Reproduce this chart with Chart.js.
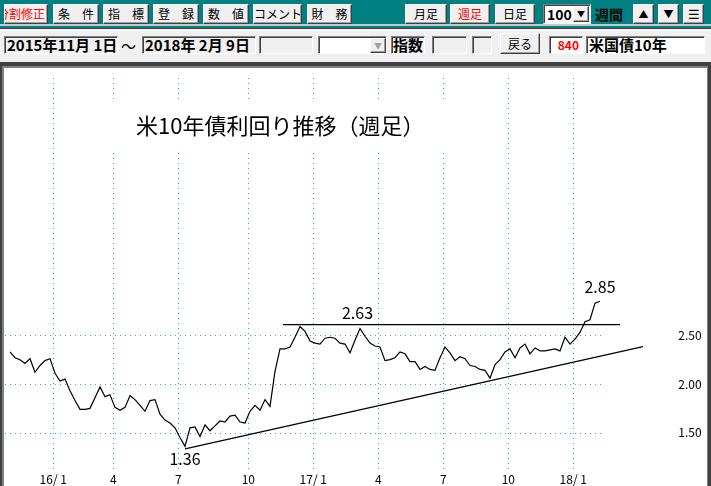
<!DOCTYPE html>
<html><head><meta charset="utf-8">
<script src="https://cdn.jsdelivr.net/npm/chart.js@4/dist/chart.umd.min.js"></script>
<style>
body{margin:0;width:711px;height:486px;overflow:hidden;background:#f0f0f0;position:relative;font-family:"Noto Sans CJK JP",sans-serif}
#bar1{position:absolute;left:0;top:0;width:711px;height:28px;background:#008080;border-bottom:1px solid #404040}
#bar1line{position:absolute;left:0;top:24px;width:711px;height:2px;background:#c8c8c8}
.btn{position:absolute;box-sizing:border-box;background:#f0f0f0;border:1px solid;border-color:#fff #404040 #404040 #fff;box-shadow:inset -1px -1px #a0a0a0;font-size:12px;line-height:18px;text-align:center;white-space:nowrap;overflow:hidden;color:#000}
.r1{top:4px;height:20px}
.red{color:#f00}
.sunk{position:absolute;box-sizing:border-box;border:1px solid;border-color:#808080 #fff #fff #808080;box-shadow:inset 1px 1px #404040;white-space:nowrap;overflow:hidden;font-weight:bold;font-size:15px;line-height:15px}
.r2{top:36px;height:18px}
.white{background:#fff}
.lbl{position:absolute;font-weight:bold;white-space:nowrap}
#frame{position:absolute;left:0;top:62px;width:711px;height:430px;box-sizing:border-box;border-top:4px solid #404040;border-left:2px solid #404040;border-right:3px solid #404040;background:#fff;box-shadow:inset 2px 2px #808080, inset -1px 0 #808080}
#c{position:absolute;left:4px;top:68px}
</style>
</head><body>
<div id="bar1"></div><div id="bar1line"></div>
<div class="btn r1 red" style="left:4px;width:44px"><span style="position:absolute;right:2px;top:0">分割修正</span></div>
<div class="btn r1" style="left:53px;width:46px">条　件</div>
<div class="btn r1" style="left:103px;width:46px">指　標</div>
<div class="btn r1" style="left:153px;width:46px">登　録</div>
<div class="btn r1" style="left:203px;width:46px">数　値</div>
<div class="btn r1" style="left:253px;width:49px">コメント</div>
<div class="btn r1" style="left:307px;width:45px">財　務</div>
<div class="btn r1" style="left:405px;width:42px">月足</div>
<div class="btn r1 red" style="left:450px;width:40px">週足</div>
<div class="btn r1" style="left:495px;width:40px">日足</div>
<div class="sunk white" style="left:543px;top:4px;width:48px;height:20px;font-size:14px;line-height:18px;padding-left:3px">100</div>
<div class="btn" style="left:573px;top:6px;width:16px;height:16px;font-size:8px;line-height:14px">▼</div>
<div class="lbl" style="left:595px;top:4px;font-size:14px;line-height:20px;color:#000">週間</div>
<div class="btn r1" style="left:633px;width:21px;font-size:10px">▲</div>
<div class="btn r1" style="left:658px;width:21px;font-size:10px">▼</div>
<div class="btn r1" style="left:683px;width:21px;font-size:13px">☰</div>

<div class="sunk r2" style="left:4px;width:114px;padding-left:2px">2015年11月 1日</div>
<div class="lbl" style="left:121px;top:35px;font-size:15px;font-weight:normal">～</div>
<div class="sunk r2" style="left:142px;width:114px;padding-left:2px">2018年 2月 9日</div>
<div class="sunk r2" style="left:259px;width:54px"></div>
<div class="sunk r2 white" style="left:318px;width:69px"></div>
<div class="btn" style="left:370px;top:38px;width:16px;height:15px;font-size:8px;line-height:13px;color:#a0a0a0">▼</div>
<div class="sunk r2" style="left:391px;width:34px;padding-left:1px">指数</div>
<div class="sunk r2" style="left:432px;width:35px"></div>
<div class="sunk r2" style="left:472px;width:20px"></div>
<div class="btn" style="left:500px;top:33px;width:40px;height:21px;line-height:19px;font-size:12px">戻る</div>
<div class="sunk r2 white" style="left:549px;width:34px;color:#f00;font-size:12px;text-align:right;padding-right:3px;line-height:16px">840</div>
<div class="sunk r2 white" style="left:586px;width:119px;padding-left:2px">米国債10年</div>

<div id="frame"></div>
<canvas id="c" width="701" height="418"></canvas>
<script>
// ---- data (weekly close, 2015-11-06 .. 2018-02-09) ----
const YIELDS = [
 2.33,2.27,2.25,2.21,2.26,2.12,2.19,2.24,2.26,2.11,
 2.03,2.05,1.93,1.83,1.74,1.74,1.75,1.86,1.97,1.87,
 1.89,1.76,1.73,1.76,1.88,1.84,1.78,1.72,1.83,1.84,
 1.69,1.63,1.60,1.55,1.45,1.36,1.55,1.56,1.46,1.58,
 1.52,1.57,1.62,1.61,1.67,1.68,1.61,1.60,1.72,1.78,
 1.73,1.84,1.77,2.13,2.36,2.36,2.38,2.48,2.59,2.54,
 2.44,2.42,2.41,2.47,2.48,2.47,2.42,2.41,2.32,2.45,
 2.57,2.49,2.42,2.39,2.38,2.24,2.25,2.27,2.33,2.31,
 2.23,2.23,2.15,2.18,2.15,2.14,2.27,2.38,2.32,2.24,
 2.28,2.26,2.19,2.18,2.15,2.14,2.06,2.20,2.25,2.33,
 2.36,2.27,2.37,2.41,2.31,2.37,2.34,2.34,2.35,2.36,
 2.34,2.48,2.41,2.46,2.53,2.64,2.66,2.83,2.85
];
const MONTH_TICK_WEEKS = [9,21,34,48,61,74,87,100,113];
const MONTH_TICK_LABELS = ['16/ 1','4','7','10','17/ 1','4','7','10','18/ 1'];
const Y_TICKS = [1.5,2.0,2.5];
const Y_TICK_LABELS = ['1.50','2.00','2.50'];
const TITLE = '米10年債利回り推移（週足）';
const RESIST_LINE = [{x:54.6,y:2.61},{x:122,y:2.61}];
const TREND_LINE = [{x:35,y:1.333},{x:126.6,y:2.383}];
const NOTES = [{text:'2.63',x:69.5,y:2.73},{text:'2.85',x:118,y:3.0},{text:'1.36',x:35,y:1.235}];

const GRID = '#00c0c0';
const FONT = '"Noto Sans CJK JP", sans-serif';

const deco = {
  id:'deco',
  beforeDatasetsDraw(chart){
    const {ctx, chartArea:a, scales:{x,y}} = chart;
    ctx.save();
    ctx.fillStyle = GRID;
    MONTH_TICK_WEEKS.forEach(w=>{
      const px = Math.round(x.getPixelForValue(w-0.34));
      for(let py=a.top+10; py<=a.bottom-18; py+=5) ctx.fillRect(px,py,1,1);
    });
    const xEnd = x.getPixelForValue(YIELDS.length-1+0.8);
    Y_TICKS.forEach(v=>{
      const py = Math.round(y.getPixelForValue(v));
      for(let px=a.left+1; px<=xEnd; px+=5) ctx.fillRect(px,py,1,1);
    });
    ctx.fillStyle = '#fff';
    ctx.fillRect(56,35,420,50);
    ctx.fillStyle = '#000';
    ctx.font = '22px '+FONT;
    ctx.textBaseline = 'middle';
    ctx.textAlign = 'left';
    ctx.fillText(TITLE, 132, 58);
    ctx.font = '12px '+FONT;
    ctx.textAlign = 'center';
    Y_TICKS.forEach((v,i)=>ctx.fillText(Y_TICK_LABELS[i], 686, y.getPixelForValue(v)));
    MONTH_TICK_WEEKS.forEach((w,i)=>ctx.fillText(MONTH_TICK_LABELS[i], x.getPixelForValue(w-0.34), a.bottom-7));
    ctx.restore();
  },
  afterDatasetsDraw(chart){
    const {ctx, scales:{x,y}} = chart;
    ctx.save();
    ctx.fillStyle='#000';
    ctx.font = '16px '+FONT;
    ctx.textAlign='center';
    ctx.textBaseline='middle';
    NOTES.forEach(n=>ctx.fillText(n.text, x.getPixelForValue(n.x), y.getPixelForValue(n.y)));
    ctx.restore();
  }
};

new Chart(document.getElementById('c'), {
  type:'line',
  data:{datasets:[
    {data:YIELDS.map((v,i)=>({x:i,y:v})), borderColor:'#000', borderWidth:1.2, pointRadius:0, tension:0},
    {data:RESIST_LINE, borderColor:'#000', borderWidth:1.3, pointRadius:0},
    {data:TREND_LINE, borderColor:'#000', borderWidth:1.3, pointRadius:0}
  ]},
  options:{
    responsive:false, animation:false, devicePixelRatio:1,
    layout:{padding:0},
    plugins:{legend:{display:false}, tooltip:{enabled:false}},
    scales:{
      x:{type:'linear', min:-1.2, max:139, display:false},
      y:{type:'linear', min:0.9528, max:5.2444, display:false}
    }
  },
  plugins:[deco]
});
</script>
</body></html>
